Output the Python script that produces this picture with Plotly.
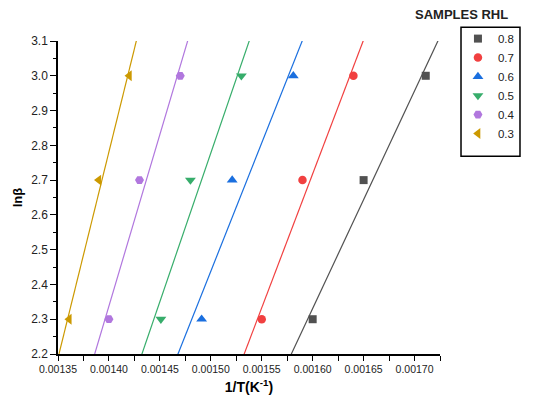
import numpy as np
import plotly.graph_objects as go

# Arrhenius-type plot: ln(beta) against 1/T for each RHL sample
samples = ["0.8", "0.7", "0.6", "0.5", "0.4", "0.3"]
ln_beta = [2.3, 2.7, 3.0]
inv_T_08 = [0.001600, 0.001650, 0.001711]
inv_T_07 = [0.001550, 0.001590, 0.001640]
inv_T_06 = [0.001491, 0.001521, 0.001581]
inv_T_05 = [0.001451, 0.001480, 0.001530]
inv_T_04 = [0.001400, 0.001430, 0.001470]
inv_T_03 = [0.001361, 0.001390, 0.001420]
x_tick_vals = [0.00135, 0.00140, 0.00145, 0.00150, 0.00155, 0.00160, 0.00165, 0.00170]

series_x = [inv_T_08, inv_T_07, inv_T_06, inv_T_05, inv_T_04, inv_T_03]
colors = ["#515151", "#F14040", "#1A6FDF", "#37AD6B", "#B177DE", "#CC9900"]
symbols = ["square", "circle", "triangle-up", "triangle-down", "hexagon2", "triangle-left"]
sizes = [8, 8.5, 9.5, 9.5, 9, 9.5]

x_range = [0.00135, 0.001725]
y_range = [2.2, 3.1]

fig = go.Figure()

# linear fits drawn first so the markers sit on top
for name, xs, col in zip(samples, series_x, colors):
    slope, intercept = np.polyfit(xs, ln_beta, 1)
    xf = np.linspace(x_range[0] - 0.0001, x_range[1] + 0.0001, 50)
    fig.add_trace(go.Scatter(
        x=xf, y=slope * xf + intercept, mode="lines",
        line=dict(color=col, width=1.2), showlegend=False, hoverinfo="skip",
    ))

for name, xs, col, sym, sz in zip(samples, series_x, colors, symbols, sizes):
    fig.add_trace(go.Scatter(
        x=xs, y=ln_beta, mode="markers", name=name,
        marker=dict(color=col, symbol=sym, size=sz, line=dict(width=0)),
    ))

axis_font = dict(family="Arial, Liberation Sans, sans-serif", color="#222")

fig.update_layout(
    width=534, height=407,
    margin=dict(l=58, r=94, t=41, b=53),
    paper_bgcolor="white", plot_bgcolor="white",
    xaxis=dict(
        range=x_range, tickvals=x_tick_vals, tickformat=".5f",
        showgrid=False, zeroline=False, showline=True, linecolor="black", linewidth=1.5,
        ticks="outside", ticklen=5, tickwidth=1.2, tickcolor="black",
        minor=dict(dtick=0.000025, tick0=0.00135, ticks="outside", ticklen=5,
                   tickwidth=1.2, tickcolor="black", showgrid=False),
        tickfont=dict(size=10.5, **axis_font),
        title=dict(text="<b>1/T(K<sup>-1</sup>)</b>", standoff=8,
                   font=dict(size=14, family="Arial, Liberation Sans, sans-serif", color="black")),
    ),
    yaxis=dict(
        range=y_range, dtick=0.1, tick0=2.2, tickformat=".1f",
        showgrid=False, zeroline=False, showline=True, linecolor="black", linewidth=1.5,
        ticks="outside", ticklen=6, tickwidth=1.2, tickcolor="black",
        minor=dict(dtick=0.05, tick0=2.2, ticks="outside", ticklen=3,
                   tickwidth=1.2, tickcolor="black", showgrid=False),
        tickfont=dict(size=12, **axis_font),
        title=dict(text="<b>lnβ</b>", standoff=6,
                   font=dict(size=13, family="Arial, Liberation Sans, sans-serif", color="black")),
    ),
    legend=dict(
        x=1.047, y=1.054, xanchor="left", yanchor="top",
        bgcolor="rgba(0,0,0,0)", borderwidth=0,
        font=dict(size=11.5, family="Arial, Liberation Sans, sans-serif", color="#222"),
        traceorder="normal",
    ),
    shapes=[dict(type="rect", xref="paper", yref="paper",
                 x0=1.055, x1=1.2094, y0=0.632, y1=1.0437,
                 line=dict(color="black", width=1.5))],
    annotations=[dict(text="<b>SAMPLES RHL</b>", xref="paper", yref="paper",
                      x=1.0555, y=1.086, xanchor="center", yanchor="middle",
                      showarrow=False,
                      font=dict(size=13, family="Arial, Liberation Sans, sans-serif", color="#222"))],
)

fig.write_html("out.html")
